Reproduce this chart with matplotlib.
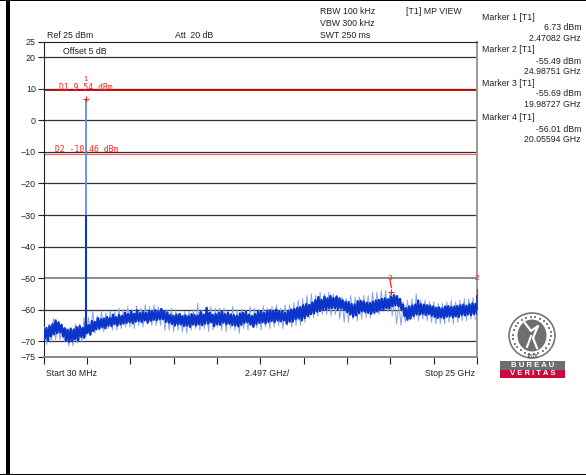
import matplotlib
matplotlib.use("Agg")
import matplotlib.pyplot as plt
import numpy as np
from matplotlib.patches import Ellipse, Rectangle

plt.rcParams['font.family'] = ['Liberation Sans', 'DejaVu Sans']

# values (GHz / dBm)
y_ticks = [25, 20, 10, 0, -10, -20, -30, -40, -50, -60, -70, -75]
y_labels = ["25", "20", "10", "0", "\u221210", "\u221220", "\u221230", "\u221240",
            "\u221250", "\u221260", "\u221270", "\u221275"]
dark_grid = [20, 10, 0, -10, -20, -30, -40, -60, -70]
gray_grid = [-50]

start_ghz = 0.03
stop_ghz = 25.0
n_div = 10

d1_level = 9.54
d2_level = -10.46

marker_freq = [2.47082, 24.98751, 19.98727, 20.05594]
marker_level = [6.73, -55.49, -55.69, -56.01]
marker_names = ["1", "2", "3", "4"]

# top and bottom of the noise band, left to right
trace_up = [-66.5, -65.8, -65.2, -64.6, -63.4, -64.0, -64.8, -65.9, -66.4, -66.0, -66.3, -65.5,
            -65.2, -65.8, -64.2, -64.9, -63.6, -63.9, -62.7, -63.0, -62.8, -62.3, -62.6, -61.6,
            -62.4, -61.7, -62.0, -61.0, -61.4, -60.6, -61.3, -60.2, -61.1, -60.8, -61.0, -60.4,
            -60.6, -60.2, -60.6, -59.8, -60.5, -60.9, -61.6, -61.9, -61.6, -61.4, -62.0, -61.8,
            -62.0, -61.4, -61.7, -61.9, -60.8, -61.6, -59.4, -61.0, -61.6, -61.4, -61.0, -60.6,
            -61.4, -61.0, -61.5, -61.7, -62.0, -61.2, -61.0, -60.7, -61.6, -62.0, -61.4, -60.6,
            -60.7, -61.0, -60.4, -60.2, -60.4, -60.0, -60.6, -60.5, -61.0, -60.4, -60.0, -59.8,
            -59.4, -59.2, -58.6, -58.2, -58.5, -57.7, -57.0, -56.0, -56.9, -55.9, -56.4, -55.7,
            -56.3, -55.8, -56.4, -57.0, -57.5, -57.6, -58.2, -58.4, -57.3, -57.2, -57.4, -57.8,
            -57.9, -57.5, -57.1, -56.9, -56.6, -56.4, -56.7, -55.9, -55.4, -55.7, -56.6, -58.4,
            -59.5, -59.0, -58.7, -58.4, -57.1, -58.3, -58.4, -58.6, -58.7, -59.0, -59.4, -59.3,
            -59.6, -59.0, -58.9, -59.2, -59.0, -58.8, -58.6, -58.4, -58.8, -58.3, -58.0, -58.2]
trace_dn = [-69.2, -69.8, -68.4, -67.8, -67.4, -67.2, -68.5, -69.8, -70.2, -70.0, -69.4, -69.7,
            -68.6, -68.9, -67.4, -67.9, -66.8, -66.2, -66.0, -65.6, -65.9, -65.0, -65.2, -64.6,
            -65.0, -64.6, -64.4, -64.2, -63.9, -64.3, -63.8, -63.6, -63.9, -63.4, -64.1, -63.5,
            -63.2, -63.3, -63.0, -63.0, -63.9, -64.1, -64.5, -65.0, -64.6, -64.7, -65.2, -65.0,
            -65.4, -64.7, -65.0, -64.6, -64.9, -64.4, -64.4, -64.0, -65.2, -64.6, -64.8, -64.1,
            -64.6, -64.4, -64.9, -65.0, -65.3, -64.8, -64.2, -64.0, -64.7, -65.4, -64.5, -64.2,
            -64.0, -64.3, -63.9, -63.6, -63.9, -63.4, -63.7, -63.4, -64.4, -63.8, -63.8, -63.0,
            -62.8, -63.4, -62.6, -62.0, -61.4, -61.2, -60.6, -60.4, -60.0, -59.9, -59.6, -59.5,
            -59.5, -59.8, -59.6, -60.0, -60.8, -61.5, -62.2, -61.8, -61.1, -60.5, -60.7, -61.0,
            -61.3, -60.9, -60.6, -60.1, -60.0, -59.5, -59.6, -58.9, -58.6, -58.9, -59.8, -62.0,
            -63.2, -62.8, -62.0, -61.5, -61.6, -61.3, -61.7, -61.4, -61.9, -62.3, -62.6, -62.4,
            -62.7, -62.2, -62.0, -62.4, -62.1, -62.3, -61.6, -61.8, -61.5, -61.7, -61.4, -61.2]

# paler excursions outside the band
spike_top = [-65.5, -64.5, -62.8, -64.5, -65.5, -66, -66.5, -64.5,
             -64.5, -62.5, -62.5, -60.5, -62, -60.5, -61, -60.5,
             -60.5, -59.5, -60, -59, -60, -58.8, -59.5, -58.5,
             -59, -58.5, -59, -59.8, -60, -59.5, -60, -61,
             -60.5, -60.5, -60, -58, -60, -60.5, -59, -59.5,
             -59.5, -59.5, -60.5, -59, -60, -59.8, -60.2, -59,
             -59.5, -60, -58.8, -59.5, -59, -58.5, -59.5, -58.5,
             -58.5, -57.8, -57, -56.5, -55.5, -55, -55.5, -54.5,
             -55, -54.5, -55, -56, -56, -56.5, -55.5, -56,
             -56, -55.5, -55.5, -54.5, -54.5, -54, -54, -54.5,
             -57, -58, -57.5, -57, -56.5, -55, -57, -57,
             -57.5, -57.5, -58, -58, -57.5, -57, -57.5, -57,
             -56.5, -56.5, -56.2]
spike_bot = [-71, -70.5, -69.5, -69.5, -70, -71.5, -71.5, -70.5,
             -70.5, -68.5, -68, -67.5, -66.5, -67, -66, -66.5,
             -66.5, -66, -65.5, -65.5, -66, -65, -65.5, -64.5,
             -65, -65, -65, -66.5, -66.5, -67, -66.5, -67,
             -67.5, -66.5, -66, -66.5, -66, -67, -66.5, -65.5,
             -66.5, -67, -66, -66.5, -67.5, -66, -66.5, -65.5,
             -65.8, -66.5, -65.5, -66, -65.5, -65, -66, -65,
             -65.5, -65, -65, -64, -62.8, -62.5, -62, -61.5,
             -61.5, -62, -61.5, -63, -64, -64, -63, -63.5,
             -63, -62.5, -62.5, -61.5, -61.5, -60.5, -60.5, -62,
             -64.5, -65, -64, -63, -63, -63.5, -63, -63.5,
             -64, -64.5, -64.5, -64.5, -64, -64.5, -64, -63.5,
             -63.5, -63, -63]

fig = plt.figure(figsize=(5.86, 4.75), dpi=100)
ax = fig.add_axes([43.5 / 586, 1 - 357 / 475, (477 - 43.5) / 586, (357 - 41.5) / 475])
ax.set_xlim(start_ghz, stop_ghz)
ax.set_ylim(-75, 25)

ax.set_yticks(y_ticks)
ax.set_yticklabels(y_labels, fontsize=6.4, color="#222222")
ax.set_xticks(np.linspace(start_ghz, stop_ghz, n_div + 1))
ax.set_xticklabels([])
ax.tick_params(axis='y', length=4, width=0.8, pad=1.5, color="#222222")
ax.tick_params(axis='x', length=5, width=0.8, direction='out', color="#222222")

ax.spines['left'].set_color("#222222")
ax.spines['top'].set_color("#222222")
ax.spines['right'].set_color("#999999")
ax.spines['bottom'].set_color("#888888")
ax.spines['right'].set_linewidth(1.4)
ax.spines['bottom'].set_linewidth(1.4)

for level in dark_grid:
    ax.axhline(level, color="#333333", lw=0.9, zorder=1)
for level in gray_grid:
    ax.axhline(level, color="#8c8c8c", lw=1.4, zorder=1)

ax.axhline(d1_level, color="#c40000", lw=1.3, zorder=2)
ax.axhline(d2_level - 0.2, color="#ff6464", lw=0.9, zorder=2)

# noise band: pale excursions under the heavier zigzag
band_x = np.linspace(start_ghz, stop_ghz, 2 * len(trace_up))
band_y = np.column_stack([trace_up, trace_dn]).ravel()
spike_x = np.linspace(0.1, 24.9, 2 * len(spike_top))
spike_y = np.column_stack([spike_top, spike_bot]).ravel()
ax.plot(spike_x, spike_y, color="#86a2f2", lw=0.7, zorder=3)
ax.plot(band_x, band_y, color="#0a35c8", lw=1.7, zorder=4)

# carrier, pale above -30 dBm
ax.vlines(marker_freq[0], -30, marker_level[0], color="#5f8cf0", lw=1.3, zorder=5)
ax.vlines(marker_freq[0], -66, -30, color="#0a35c8", lw=1.5, zorder=5)
ax.vlines(marker_freq[1], -60, marker_level[1], color="#0a35c8", lw=1.2, zorder=5, clip_on=False)

ax.plot(marker_freq[0], marker_level[0], '+', color="#ff2020", ms=5, mew=0.8, zorder=6)
ax.plot(marker_freq[3], marker_level[3] + 1.5, '+', color="#ff2020", ms=5, mew=0.8, zorder=6)
ax.plot([marker_freq[1]] * 2, [marker_level[1], marker_level[1] + 2], color="#ff2020", lw=0.9,
        zorder=6, clip_on=False)
ax.plot([marker_freq[2], marker_freq[2] + 0.08], [-50.5, -53], color="#ff2020", lw=0.9, zorder=6)

ax.text(marker_freq[0], 11.9, marker_names[0], color="#ff2020", fontsize=5.5, ha='center',
        va='bottom', zorder=7)
ax.text(marker_freq[1], -50, marker_names[1], color="#ff2020", fontsize=6, ha='center',
        va='center', zorder=7, clip_on=False)
ax.text(marker_freq[2], -50, marker_names[2], color="#ff2020", fontsize=6, ha='center',
        va='center', zorder=7)

ax.text(0.95, 10.4, "D1 9.54 dBm", color="#ff2020", fontsize=5.8, family='DejaVu Sans Mono',
        va='center', zorder=7)
ax.text(0.72, -9.3, "D2 -10.46 dBm", color="#ff2020", fontsize=5.8, family='DejaVu Sans Mono',
        va='center', zorder=7)

# overlay in screen pixels for the instrument text, the logo and the frame
over = fig.add_axes([0, 0, 1, 1], facecolor='none')
over.set_xlim(0, 586)
over.set_ylim(475, 0)
over.axis('off')

over.add_patch(Rectangle((6, 0), 4, 475, color="black", lw=0))
over.add_patch(Rectangle((0, 0), 586, 1.2, color="black", lw=0))
over.add_patch(Rectangle((0, 473.8), 586, 1.2, color="black", lw=0))


def label(x, y, s, ha='left', color="#222222", size=6.3, **kw):
    over.text(x, y, s, ha=ha, va='center', color=color, fontsize=size, **kw)


label(47, 36, "Ref 25 dBm")
label(175, 36, "Att  20 dB")
label(63, 52, "Offset 5 dB")
label(320, 12, "RBW 100 kHz")
label(320, 24, "VBW 300 kHz")
label(320, 35, "SWT 250 ms")
label(406, 12, "[T1] MP VIEW")
label(46, 373, "Start 30 MHz")
label(245, 373, "2.497 GHz/")
label(475, 373, "Stop 25 GHz", ha='right')

panel_y = [17, 50, 83, 118]
panel_freq = ["2.47082 GHz", "24.98751 GHz", "19.98727 GHz", "20.05594 GHz"]
panel_level = ["6.73 dBm", "-55.49 dBm", "-55.69 dBm", "-56.01 dBm"]
for i in range(4):
    label(482, panel_y[i], "Marker %s [T1]" % marker_names[i])
    label(581, panel_y[i] + 11, panel_level[i], ha='right')
    label(581, panel_y[i] + 21.5, panel_freq[i], ha='right')

# Bureau Veritas stamp
over.add_patch(Ellipse((532, 335.5), 46, 45, fc='white', ec="#777777", lw=1.2))
over.add_patch(Ellipse((532, 335.5), 29, 32, fc="#6f6f6f", ec='none'))
over.text(532, 356, "1828", ha='center', va='center', fontsize=3.8, color="#555555", weight='bold')
over.plot([525, 531, 538, 533, 537], [323, 331, 326, 338, 348], color='white', lw=1.6)
over.plot([531, 527], [336, 347], color='white', lw=1.4)
for ang in np.deg2rad(np.arange(0, 360, 14)):
    over.plot(532 + 19 * np.cos(ang), 335.5 + 18.5 * np.sin(ang), 's', ms=2, color="#808080", mew=0)
over.add_patch(Rectangle((500, 361), 65, 8.5, color="#6e6e6e", lw=0))
over.add_patch(Rectangle((500, 369.5), 65, 8, color="#cc0a3c", lw=0))
over.text(532.5, 365.2, "B U R E A U", ha='center', va='center', fontsize=5.6, color='white', weight='bold')
over.text(532.5, 373.6, "V E R I T A S", ha='center', va='center', fontsize=5.6, color='white', weight='bold')

fig.savefig("out.png", dpi=100)
